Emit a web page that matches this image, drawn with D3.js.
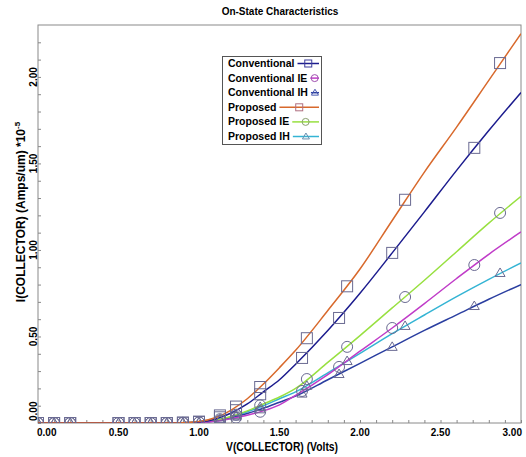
<!DOCTYPE html>
<html><head><meta charset="utf-8">
<script src="https://cdn.jsdelivr.net/npm/d3@7"></script>
<style>body{margin:0;background:#fff;} svg{display:block;font-family:"Liberation Sans",Arial,sans-serif;}</style>
</head><body><svg id="c" width="526" height="457"></svg>
<script>
// ---- data ----
const title = "On-State Characteristics";
const xTitle = "V(COLLECTOR) (Volts)";
const yTitle = "I(COLLECTOR) (Amps/um) *10";
const yTitleExp = "-5";
const xTickLabels = ["0.00","0.50","1.00","1.50","2.00","2.50","3.00"];
const yTickLabels = ["0.00","0.50","1.00","1.50","2.00"];
const seriesNames = ["Conventional","Conventional IE","Conventional IH","Proposed","Proposed IE","Proposed IH"];
const seriesColors = ["#1c1c8e","#c03cc8","#2a3ea0","#d8692c","#98e040","#34b4d4"];
const seriesMarkers = ["square","circle","triangle","square","circle","triangle"];
const legendMarkerColors = ["#3a3a9a","#a050b0","#4a5ab0","#b07080","#8aa070","#6a90b0"];

// curve samples (V, I in 1e-5 A/um)
const vCurve = [0,0.2,0.5,0.8,0.9,1.0,1.1,1.2,1.3,1.4,1.5,1.6,1.8,2.0,2.2,2.4,2.6,2.8,3.0];
const iConventional   = [0,0,0,0,0.002,0.006,0.022,0.058,0.11,0.18,0.25,0.34,0.535,0.75,0.983,1.22,1.46,1.69,1.91];
const iConventionalIE = [0,0,0,0,0.001,0.003,0.010,0.025,0.045,0.07,0.105,0.16,0.28,0.415,0.549,0.69,0.835,0.975,1.104];
const iConventionalIH = [0,0,0,0,0.001,0.003,0.012,0.030,0.055,0.085,0.12,0.155,0.25,0.345,0.44,0.535,0.625,0.715,0.80];
const iProposed       = [0,0,0,0,0.002,0.008,0.030,0.075,0.14,0.225,0.32,0.42,0.65,0.89,1.17,1.45,1.71,1.98,2.25];
const iProposedIE     = [0,0,0,0,0.001,0.004,0.015,0.038,0.07,0.11,0.15,0.20,0.35,0.505,0.665,0.825,0.99,1.155,1.31];
const iProposedIH     = [0,0,0,0,0.001,0.004,0.015,0.036,0.065,0.10,0.14,0.18,0.29,0.402,0.516,0.624,0.73,0.83,0.925];

// marker samples
const vMarkConv = [0,0.1,0.2,0.5,0.6,0.7,0.8,0.9,1.0,1.13,1.23,1.38,1.64,1.87,2.2,2.71];
const vMarkProp = [0,0.1,0.2,0.5,0.6,0.7,0.8,0.9,1.0,1.13,1.23,1.38,1.67,1.92,2.28,2.87];
const mConventional   = [0,0,0,0,0,0,0,0.002,0.006,0.033,0.074,0.166,0.376,0.607,0.983,1.59];
const mConventionalIE = [0,0,0,0,0,0,0,0.001,0.003,0.0145,0.031,0.065,0.185,0.324,0.549,0.913];
const mConventionalIH = [0,0,0,0,0,0,0,0.001,0.003,0.017,0.037,0.079,0.17,0.283,0.44,0.676];
const mProposed       = [0,0,0,0,0,0,0,0.002,0.008,0.044,0.095,0.208,0.49,0.79,1.29,2.08];
const mProposedIE     = [0,0,0,0,0,0,0,0.001,0.004,0.022,0.048,0.102,0.254,0.44,0.728,1.214];
const mProposedIH     = [0,0,0,0,0,0,0,0.001,0.004,0.021,0.045,0.093,0.215,0.358,0.561,0.867];

const curves = [iConventional,iConventionalIE,iConventionalIH,iProposed,iProposedIE,iProposedIH];
const markI = [mConventional,mConventionalIE,mConventionalIH,mProposed,mProposedIE,mProposedIH];
const markV = [vMarkConv,vMarkConv,vMarkConv,vMarkProp,vMarkProp,vMarkProp];

// ---- layout ----
const svg = d3.select("#c");
const L=38,R=521,T=25,B=423;
const x = d3.scaleLinear().domain([0,3]).range([L,R]);
const y = d3.scaleLinear().domain([0,2.3]).range([B,T]);

svg.append("defs").append("clipPath").attr("id","clip")
  .append("rect").attr("x",L).attr("y",T).attr("width",R-L).attr("height",B-T);

// title
svg.append("text").attr("x",280).attr("y",15).attr("text-anchor","middle")
  .attr("font-size",10).attr("font-weight","bold").text(title);

// frame
svg.append("rect").attr("x",L).attr("y",T).attr("width",R-L).attr("height",B-T)
  .attr("fill","none").attr("stroke","#8a8a8a").attr("stroke-width",1);

// axes ticks
const xAxis = d3.axisBottom(x).tickValues(d3.range(0,31).map(i=>i/10)).tickSize(-3).tickFormat("");
svg.append("g").attr("transform",`translate(0,${B})`).call(xAxis)
  .call(g=>{g.select(".domain").remove();g.selectAll("line").attr("stroke","#888");});
const yAxis = d3.axisLeft(y).tickValues(d3.range(0,23).map(i=>i/10)).tickSize(-3).tickFormat("");
svg.append("g").attr("transform",`translate(${L},0)`).call(yAxis)
  .call(g=>{g.select(".domain").remove();g.selectAll("line").attr("stroke","#888");});

// x tick labels
const xTickVals = xTickLabels.map(Number);
svg.append("g").selectAll("text").data(xTickVals).join("text")
  .attr("x",(d,i)=> i===0 ? x(d)-1 : (i===xTickVals.length-1 ? x(d)+1 : x(d)))
  .attr("y",436).attr("font-size",10).attr("font-weight","bold")
  .attr("text-anchor",(d,i)=> i===0?"start":(i===xTickVals.length-1?"end":"middle"))
  .text((d,i)=>xTickLabels[i]);

// y tick labels (rotated)
const yTickVals = yTickLabels.map(Number);
svg.append("g").selectAll("text").data(yTickVals).join("text")
  .attr("transform",(d,i)=>`translate(36.5,${i===0? y(d)-2 : y(d)}) rotate(-90)`)
  .attr("font-size",10).attr("font-weight","bold")
  .attr("text-anchor",(d,i)=> i===0?"start":"middle")
  .text((d,i)=>yTickLabels[i]);

// axis titles
svg.append("text").attr("x",282).attr("y",451).attr("text-anchor","middle")
  .attr("font-size",12).attr("font-weight","bold")
  .attr("textLength",112).attr("lengthAdjust","spacingAndGlyphs").text(xTitle);
const yt = svg.append("text").attr("transform","translate(25,212) rotate(-90)")
  .attr("text-anchor","middle").attr("font-size",12).attr("font-weight","bold");
yt.append("tspan").text(yTitle);
yt.append("tspan").attr("font-size",8).attr("dy",-5).text(yTitleExp);

// plot
const plot = svg.append("g").attr("clip-path","url(#clip)");
const line = d3.line().x(d=>x(d[0])).y(d=>y(d[1])).curve(d3.curveMonotoneX);

function marker(sel, type, cx, cy, color, s){
  if(type==="square") sel.append("rect").attr("x",cx-s).attr("y",cy-s).attr("width",2*s).attr("height",2*s)
      .attr("fill","none").attr("stroke",color).attr("stroke-width",1);
  else if(type==="circle") sel.append("circle").attr("cx",cx).attr("cy",cy).attr("r",s)
      .attr("fill","none").attr("stroke",color).attr("stroke-width",1);
  else sel.append("path").attr("d",`M${cx},${cy-s}L${cx+s},${cy+s*0.7}L${cx-s},${cy+s*0.7}Z`)
      .attr("fill","none").attr("stroke",color).attr("stroke-width",1);
}

const order = [5,2,4,1,0,3];
order.forEach(k=>{
  const pts = vCurve.map((v,i)=>[v,curves[k][i]]);
  plot.append("path").attr("d",line(pts)).attr("fill","none")
    .attr("stroke",seriesColors[k]).attr("stroke-width",1.5);
});
order.forEach(k=>{
  const g = plot.append("g");
  markV[k].forEach((v,i)=>{
    const sz = seriesMarkers[k]==="square"?5.5:(seriesMarkers[k]==="circle"?5.5:5);
    marker(g, seriesMarkers[k], x(v), y(markI[k][i]), "#6a6a92", sz);
  });
});

// legend
const lg = svg.append("g");
lg.append("rect").attr("x",222.5).attr("y",56.5).attr("width",99).attr("height",88)
  .attr("fill","#fff").attr("stroke","#555").attr("stroke-width",1);
seriesNames.forEach((n,i)=>{
  const by = 67 + i*14.6;
  const t = lg.append("text").attr("x",228).attr("y",by).attr("font-size",10.5)
    .attr("font-weight","bold").text(n);
  const w = t.node().getComputedTextLength();
  const x0 = 228+w+3, x1 = 319, cy = by-3.5;
  lg.append("line").attr("x1",x0).attr("x2",x1).attr("y1",cy).attr("y2",cy)
    .attr("stroke",seriesColors[i]).attr("stroke-width",1.5);
  marker(lg, seriesMarkers[i], (x0+x1)/2, cy, legendMarkerColors[i], 3.5);
});
</script></body></html>
